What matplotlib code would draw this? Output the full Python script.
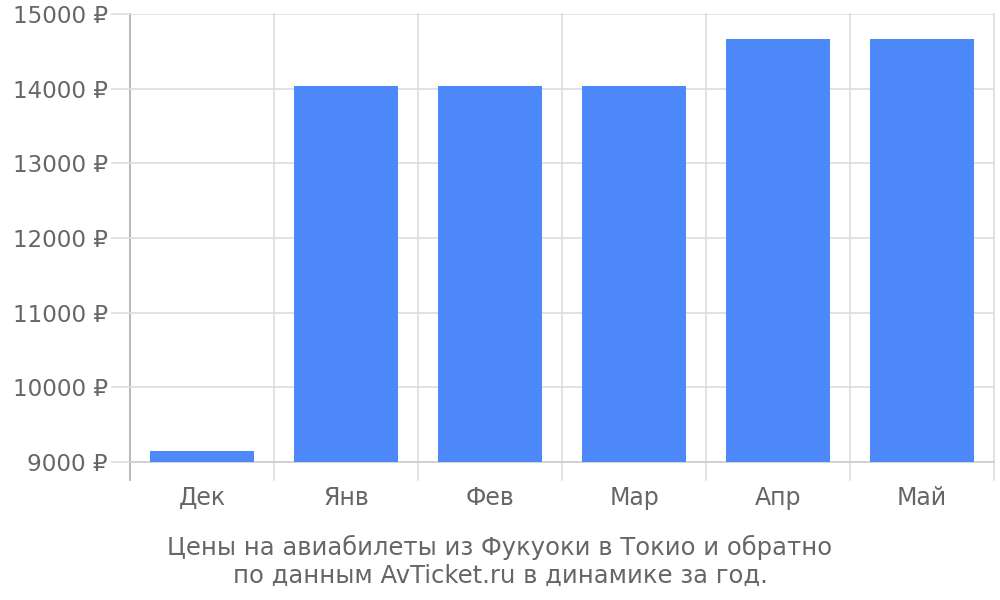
import numpy as np
import matplotlib.pyplot as plt

months = ["Дек", "Янв", "Фев", "Мар", "Апр", "Май"]
prices = [9143, 14035, 14035, 14035, 14668, 14668]
yticks = [9000, 10000, 11000, 12000, 13000, 14000, 15000]

title = "Цены на авиабилеты из Фукуоки в Токио и обратно\nпо данным AvTicket.ru в динамике за год."

fig = plt.figure(figsize=(10, 6), dpi=100)
ax = fig.add_axes([0.13, 0.23, 0.864, 0.7467])

x = np.arange(len(months))
ax.bar(x, prices, width=0.72, color="#4d89f9", bottom=0, zorder=3)

ax.set_xlim(-0.5, len(months) - 0.5)
ax.set_ylim(9000, 15000)

# horizontal grid + left ticks
ax.set_yticks(yticks)
ax.set_yticklabels([f"{v} ₽" for v in yticks])
ax.yaxis.grid(True, color="#dddddd", linewidth=1.2, zorder=0)
ax.tick_params(axis="y", length=14, color="#dddddd", width=1.2, pad=2,
               labelsize=16.6, labelcolor="#666666")

# vertical separators between categories, reaching under the axis
ax.set_xticks(x)
ax.set_xticklabels(months)
ax.tick_params(axis="x", length=0, pad=17, labelsize=17, labelcolor="#666666")
for b in np.arange(-0.5, len(months), 1.0):
    c = "#aaaaaa" if b == -0.5 else "#dddddd"
    ax.plot([b, b], [-0.04, 1.0], transform=ax.get_xaxis_transform(),
            color=c, linewidth=1.2, clip_on=False, zorder=1)

for s in ["top", "right", "left"]:
    ax.spines[s].set_visible(False)
ax.spines["bottom"].set_color("#cccccc")
ax.spines["bottom"].set_linewidth(1.2)

fig.text(0.5, 0.065, title, ha="center", va="center", fontsize=17.5,
         color="#666666", linespacing=1.2)

fig.savefig("out.png", dpi=100)
